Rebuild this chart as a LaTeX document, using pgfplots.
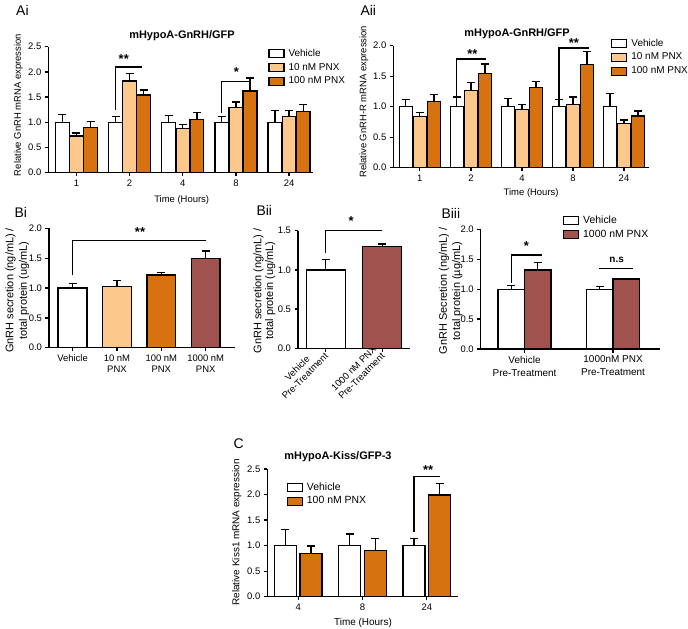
\documentclass[border=0pt]{standalone}
\usepackage{fontspec}
\setmainfont{Liberation Sans}
\usepackage{pgfplots}
\pgfplotsset{compat=1.18}

\definecolor{lorange}{RGB}{253,200,140}
\definecolor{dorange}{RGB}{215,114,16}
\definecolor{maroon}{RGB}{160,82,78}

\pgfplotsset{
  panel/.style={
    scale only axis, anchor=south west,
    axis x line*=bottom, axis y line*=left,
    axis line style={line width=1.3bp, -},
    tick align=outside, major tick length=3.5bp,
    every tick/.style={black, line width=1.3bp},
    enlargelimits=false, ymin=0, clip=false,
    font=\fontsize{9.5}{11}\selectfont,
    /pgf/number format/assume math mode=true,
    yticklabel style={/pgf/number format/.cd, fixed, fixed zerofill, precision=1},
    ylabel style={anchor=center},
    xlabel style={anchor=center},
    title style={anchor=center, yshift=-6pt, font=\bfseries\fontsize{11}{12}\selectfont},
    legend style={draw=none, fill=none, anchor=north west, inner sep=0pt,
      font=\fontsize{10}{11}\selectfont,
      nodes={inner ysep=2.4bp, inner xsep=4bp, text height=7bp, text depth=2bp}},
    legend cell align=left,
    legend image code/.code={\draw[##1, line width=1.3bp] (0bp,-4bp) rectangle (15bp,4bp);},
  },
  bar/.style={ybar, bar shift=0, draw=black, line width=1.3bp, fill=#1,
    /pgfplots/error bars/y dir=plus, /pgfplots/error bars/y explicit,
    /pgfplots/error bars/error bar style={line width=1.3bp, black},
    /pgfplots/error bars/error mark options={rotate=90, mark size=4bp, line width=1.3bp, black}},
}
\tikzset{
  brk/.style={line width=1.3bp, black},
  star/.style={font=\bfseries\fontsize{13}{13}\selectfont},
  plabel/.style={anchor=base west, font=\fontsize{14}{14}\selectfont},
}

\begin{document}
\begin{tikzpicture}
\useasboundingbox (0,0) rectangle (688bp,-629bp);

% ---- Ai (bars at group -0.265 / 0 / +0.265)
\begin{axis}[panel, at={(48.3bp,-172.7bp)}, width=264.7bp, height=126bp,
  xmin=-0.53, xmax=4.45, ymax=2.5, ytick={0,0.5,...,2.5},
  xtick={0,...,4}, xticklabels={1,2,4,8,24},
  title={mHypoA-GnRH/GFP}, title style={at={(axis description cs:0.505,1.09)}},
  ylabel={Relative GnRH mRNA expression}, ylabel style={at={(axis description cs:-0.113,0.537)}},
  xlabel={Time (Hours)}, xlabel style={at={(axis description cs:0.504,-0.217)}},
  legend style={at={(axis description cs:0.83,1.0)}},
  bar width=0.26]
\addplot[bar=white] coordinates {
  (-0.265,1.00) +- (0,0.16) (0.735,1.00) +- (0,0.12) (1.735,1.00) +- (0,0.13) (2.735,1.00) +- (0,0.12) (3.735,1.00) +- (0,0.24)};
\addplot[bar=lorange] coordinates {
  (0,0.73) +- (0,0.06) (1,1.82) +- (0,0.15) (2,0.88) +- (0,0.07) (3,1.29) +- (0,0.11) (4,1.11) +- (0,0.13)};
\addplot[bar=dorange] coordinates {
  (0.265,0.89) +- (0,0.12) (1.265,1.54) +- (0,0.10) (2.265,1.06) +- (0,0.14) (3.265,1.62) +- (0,0.26) (4.265,1.21) +- (0,0.15)};
\legend{Vehicle, 10 nM PNX, 100 nM PNX}
\draw[brk] (axis cs:0.735,1.25) |- (axis cs:1.24,2.10);
\node[star] at (axis cs:0.89,2.25) {**};
\draw[brk] (axis cs:2.735,1.18) |- (axis cs:3.265,1.81);
\node[star] at (axis cs:3.01,2.0) {*};
\end{axis}

% ---- Aii (bars at group -0.275 / 0 / +0.275)
\begin{axis}[panel, at={(393.3bp,-167.7bp)}, width=255.7bp, height=122bp,
  xmin=-0.52, xmax=4.49, ymax=2.0, ytick={0,0.5,...,2.0},
  xtick={0,...,4}, xticklabels={1,2,4,8,24},
  title={mHypoA-GnRH/GFP}, title style={at={(axis description cs:0.484,1.10)}},
  ylabel={Relative GnRH-R mRNA expression}, ylabel style={at={(axis description cs:-0.115,0.54)}},
  xlabel={Time (Hours)}, xlabel style={at={(axis description cs:0.539,-0.207)}},
  legend style={at={(axis description cs:0.851,1.075)}},
  bar width=0.26]
\addplot[bar=white] coordinates {
  (-0.275,1.00) +- (0,0.12) (0.725,1.00) +- (0,0.16) (1.725,1.00) +- (0,0.13) (2.725,1.00) +- (0,0.12) (3.725,1.00) +- (0,0.22)};
\addplot[bar=lorange] coordinates {
  (0,0.84) +- (0,0.07) (1,1.26) +- (0,0.14) (2,0.95) +- (0,0.09) (3,1.04) +- (0,0.12) (4,0.72) +- (0,0.06)};
\addplot[bar=dorange] coordinates {
  (0.275,1.08) +- (0,0.12) (1.275,1.55) +- (0,0.15) (2.275,1.31) +- (0,0.10) (3.275,1.69) +- (0,0.21) (4.275,0.85) +- (0,0.08)};
\legend{Vehicle, 10 nM PNX, 100 nM PNX}
\draw[brk] (axis cs:0.725,1.11) |- (axis cs:1.29,1.78);
\node[star] at (axis cs:1.03,1.87) {**};
\draw[brk] (axis cs:2.725,1.11) |- (axis cs:3.31,1.96);
\node[star] at (axis cs:3.02,2.04) {**};
\end{axis}

% ---- Bi
\begin{axis}[panel, at={(49bp,-347.7bp)}, width=186bp, height=119.4bp,
  xmin=-0.53, xmax=3.66, ymax=2.0, ytick={0,0.5,...,2.0},
  xtick={0,...,3}, xticklabels={Vehicle, {10 nM\\PNX}, {100 nM\\PNX}, {1000 nM\\PNX}},
  xticklabel style={align=center, anchor=north},
  ylabel={GnRH secretion (ng/mL) /\\total protein (ug/mL)},
  ylabel style={align=center, font=\fontsize{11}{13.5}\selectfont, at={(axis description cs:-0.17,0.48)}},
  bar width=0.65]
\addplot[bar=white] coordinates {(0,1.00) +- (0,0.07)};
\addplot[bar=lorange] coordinates {(1,1.03) +- (0,0.10)};
\addplot[bar=dorange] coordinates {(2,1.22) +- (0,0.04)};
\addplot[bar=maroon] coordinates {(3,1.49) +- (0,0.13)};
\draw[brk] (axis cs:0,1.21) |- (axis cs:3.0,1.79);
\node[star] at (axis cs:1.52,1.93) {**};
\end{axis}

% ---- Bii
\begin{axis}[panel, at={(298bp,-348.3bp)}, width=112bp, height=117.6bp,
  xmin=-0.49, xmax=1.49, ymax=1.5, ytick={0,0.5,...,1.5},
  xtick={0,1}, xticklabels={{Vehicle\\Pre-Treatment}, {1000 nM PNX\\Pre-Treatment}},
  xticklabel style={align=center, rotate=45, anchor=east, yshift=3bp, xshift=2bp},
  ylabel={GnRH secretion (ng/mL) /\\total protein (ug/mL)},
  ylabel style={align=center, font=\fontsize{11}{11.7}\selectfont, at={(axis description cs:-0.30,0.49)}},
  bar width=0.69]
\addplot[bar=white] coordinates {(0,1.00) +- (0,0.13)};
\addplot[bar=maroon] coordinates {(1,1.30) +- (0,0.03)};
\draw[brk] (axis cs:0,1.21) |- (axis cs:0.99,1.50);
\node[star] at (axis cs:0.45,1.62) {*};
\end{axis}

% ---- Biii (bars at group -0.15 / +0.15)
\begin{axis}[panel, at={(480.7bp,-349bp)}, width=179.3bp, height=119.7bp,
  xmin=-0.495, xmax=1.53, ymax=2.0, ytick={0,0.5,...,2.0},
  xtick={0,1}, xticklabels={{Vehicle\\Pre-Treatment}, {1000nM PNX\\Pre-Treatment}},
  xticklabel style={align=center, anchor=north, font=\fontsize{10}{13}\selectfont},
  ylabel={GnRH Secretion (ng/mL) /\\total protein (µg/mL)},
  ylabel style={align=center, font=\fontsize{11}{13.3}\selectfont, at={(axis description cs:-0.167,0.485)}},
  legend style={at={(axis description cs:0.457,1.13)}, font=\fontsize{10.5}{11}\selectfont},
  bar width=0.3]
\addplot[bar=white] coordinates {(-0.15,1.00) +- (0,0.06) (0.85,1.00) +- (0,0.05)};
\addplot[bar=maroon] coordinates {(0.15,1.32) +- (0,0.12) (1.15,1.17) +- (0,0.0)};
\legend{Vehicle, 1000 nM PNX}
\draw[brk] (axis cs:-0.15,1.11) |- (axis cs:0.20,1.57);
\node[star] at (axis cs:0.02,1.72) {*};
\draw[brk] (axis cs:0.84,1.34) -- (axis cs:1.23,1.34);
\node[font=\bfseries\fontsize{10}{10}\selectfont] at (axis cs:1.04,1.49) {n.s};
\end{axis}

% ---- C (bars at group -0.2 / +0.2)
\begin{axis}[panel, at={(267.3bp,-596.7bp)}, width=191bp, height=127.7bp,
  xmin=-0.48, xmax=2.49, ymax=2.5, ytick={0,0.5,...,2.5},
  xtick={0,1,2}, xticklabels={4,8,24},
  title={mHypoA-Kiss/GFP-3}, title style={at={(axis description cs:0.37,1.096)}},
  ylabel={Relative Kiss1 mRNA expression},
  ylabel style={font=\fontsize{10}{11}\selectfont, at={(axis description cs:-0.16,0.503)}},
  xlabel={Time (Hours)}, xlabel style={font=\fontsize{10}{11}\selectfont, at={(axis description cs:0.501,-0.204)}},
  legend style={at={(axis description cs:0.10,0.91)}, font=\fontsize{10.5}{11}\selectfont},
  bar width=0.34]
\addplot[bar=white] coordinates {(-0.2,1.00) +- (0,0.31) (0.8,1.00) +- (0,0.23) (1.8,1.00) +- (0,0.14)};
\addplot[bar=dorange] coordinates {(0.2,0.85) +- (0,0.14) (1.2,0.90) +- (0,0.24) (2.2,1.99) +- (0,0.23)};
\legend{Vehicle, 100 nM PNX}
\draw[brk] (axis cs:1.8,1.27) |- (axis cs:2.2,2.35);
\node[star] at (axis cs:2.02,2.47) {**};
\end{axis}

% panel letters
\node[plabel] at (12.7bp,-15bp) {Ai};
\node[plabel] at (357bp,-15bp) {Aii};
\node[plabel] at (11bp,-217bp) {Bi};
\node[plabel] at (253bp,-215bp) {Bii};
\node[plabel] at (438bp,-218bp) {Biii};
\node[plabel] at (230bp,-448bp) {C};
\end{tikzpicture}
\end{document}
